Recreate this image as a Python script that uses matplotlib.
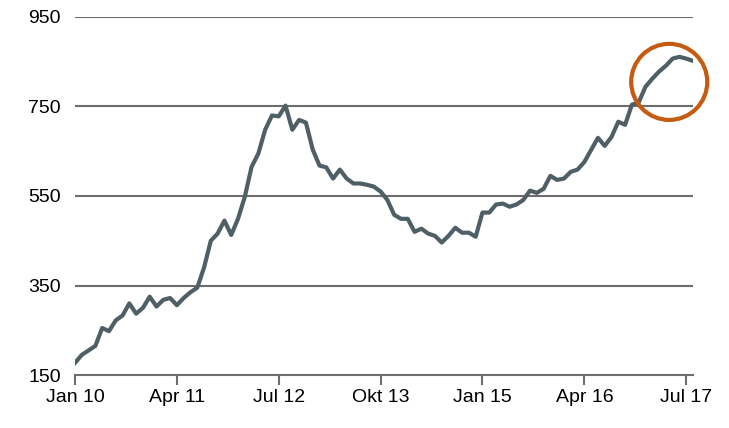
import matplotlib
matplotlib.use("Agg")
import matplotlib.pyplot as plt
from matplotlib.patches import Ellipse

plt.rcParams['font.family'] = ['Liberation Sans', 'DejaVu Sans']

values = [177,195,205,215,255,248,272,283,310,287,300,325,303,318,322,306,322,335,345,390,
          450,466,495,463,499,548,615,645,698,730,728,752,698,720,714,654,618,614,589,609,
          589,578,578,575,571,560,541,508,499,499,470,477,466,461,446,461,479,468,468,459,
          513,513,531,533,526,531,541,562,557,566,595,586,589,604,609,626,653,680,662,682,
          716,709,754,759,794,812,828,841,857,861,857,852]
tick_pos = [0, 15, 30, 45, 60, 75, 90]
tick_labels = ["Jan 10", "Apr 11", "Jul 12", "Okt 13", "Jan 15", "Apr 16", "Jul 17"]
y_ticks = [150, 350, 550, 750, 950]

fig = plt.figure(figsize=(7.29, 4.28), dpi=100)
ax = fig.add_axes([75/729, 53/428, 618/729, 358/428])
ax.plot(range(len(values)), values, color="#4f5f66", lw=3, solid_joinstyle="round", zorder=3)
ax.set_xlim(0, 91)
ax.set_ylim(150, 950)
ax.set_yticks(y_ticks)
ax.set_xticks(tick_pos)
ax.set_xticklabels(tick_labels)
for y in y_ticks[1:]:
    ax.axhline(y, color="#6d6d6d", lw=1.5, zorder=1)
for s in ["top", "right", "left"]:
    ax.spines[s].set_visible(False)
ax.spines["bottom"].set_color("#6d6d6d")
ax.spines["bottom"].set_linewidth(1.5)
ax.tick_params(axis="y", length=0, labelsize=14, pad=10)
ax.tick_params(axis="x", length=7, width=1.5, color="#6d6d6d", labelsize=14, pad=3)
ax.add_patch(Ellipse((87.5, 805), 11.2, 170, fill=False, edgecolor="#c55a11", lw=3, zorder=4, clip_on=False))
fig.savefig("out.png", dpi=100)
